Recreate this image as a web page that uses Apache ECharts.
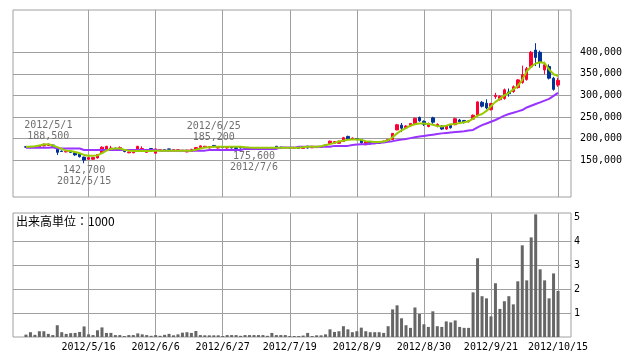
<!DOCTYPE html>
<html><head><meta charset="utf-8">
<script src="https://cdn.jsdelivr.net/npm/echarts@6/dist/echarts.min.js"></script>
<style>html,body{margin:0;padding:0;background:#fff}#c{width:638px;height:362px}</style>
</head><body><div id="c"></div>
<script>
// trading days
const dates = ['2012/4/23','2012/4/24','2012/4/25','2012/4/26','2012/4/27','2012/5/1','2012/5/2','2012/5/7','2012/5/8','2012/5/9',
'2012/5/10','2012/5/11','2012/5/14','2012/5/15','2012/5/16','2012/5/17','2012/5/18','2012/5/21','2012/5/22','2012/5/23',
'2012/5/24','2012/5/25','2012/5/28','2012/5/29','2012/5/30','2012/5/31','2012/6/1','2012/6/4','2012/6/5','2012/6/6',
'2012/6/7','2012/6/8','2012/6/11','2012/6/12','2012/6/13','2012/6/14','2012/6/15','2012/6/18','2012/6/19','2012/6/20',
'2012/6/21','2012/6/22','2012/6/25','2012/6/26','2012/6/27','2012/6/28','2012/6/29','2012/7/2','2012/7/3','2012/7/4',
'2012/7/5','2012/7/6','2012/7/9','2012/7/10','2012/7/11','2012/7/12','2012/7/13','2012/7/17','2012/7/18','2012/7/19',
'2012/7/20','2012/7/23','2012/7/24','2012/7/25','2012/7/26','2012/7/27','2012/7/30','2012/7/31','2012/8/1','2012/8/2',
'2012/8/3','2012/8/6','2012/8/7','2012/8/8','2012/8/9','2012/8/10','2012/8/13','2012/8/14','2012/8/15','2012/8/16',
'2012/8/17','2012/8/20','2012/8/21','2012/8/22','2012/8/23','2012/8/24','2012/8/27','2012/8/28','2012/8/29','2012/8/30',
'2012/8/31','2012/9/3','2012/9/4','2012/9/5','2012/9/6','2012/9/7','2012/9/10','2012/9/11','2012/9/12','2012/9/13',
'2012/9/14','2012/9/18','2012/9/19','2012/9/20','2012/9/21','2012/9/24','2012/9/25','2012/9/26','2012/9/27','2012/9/28',
'2012/10/1','2012/10/2','2012/10/3','2012/10/4','2012/10/5','2012/10/9','2012/10/10','2012/10/11','2012/10/12','2012/10/15'];

// prices in 1,000 yen
const open = [181,180,179,180,183,184,185,176,171,169,
171,167,165,157,152,152,155,167,174,176,
178,177,174,167,167,172,175,168,177,166,
173,174,176,174,173,172,169,170,174,179,
179,178,184,178,181,178,180,179,180,179,
176,176,178,176,178,177,182,180,178,179,
178,179,177,182.5,178.5,179,180,182.5,188,189,
189,193,205,198,200,197,186,191,188,190,
191,194,198,220,231,225,229,234,249,240,
228,248,229,229,222,230,232,243,242,239,
245,253,284,282,267,297,290,293,308,309,
318,330,337,366,405,400,359,367,340,324];
const close = [180,179,181,184,187,187,182,168,170,170,
168,162,158,150,156,156,163,180,182,178,
176,179,170,169,171,182,177,174,174,176,
174,173,175,174.5,174,173,173,175,179,183,
182,181,181,181,179,181,178,177,178,178,
178,178.5,177,178,177,178,179,178,179,178,
179,177,180,178,182,181,180.5,186,194,193,
194,202,199,201,198,190,193,188,190,189,
194,198,212,232,224,229,235,247,241,233,
234,238,233,222,229,225,246,239,237,241,
254,285,275,271,281,300,298,313,304,320,
336,348,362,400,388,377,371,340,314,335];
const low = [179,177,178,179,182,183,181,162,169,168,
167,160,156,142.7,150,151,154,166,172,174,
175,174,168,166,166,171,172,167,173,165,
172,172,174,173,172,171,168,169,173,178,
178,177,180,177,178,177,177,176,177,177,
176,175.6,176,175.8,176,176,178,177,177,177,
177,176,176,177,178,178,179,182,187,188,
188,192,197,197,196,188,184.5,186,187,188,
190,193,197,219,215,223,228,233,239,229,
226,234,226,220,220,223,231,236,235,237,
244,252,272,268,265,292,288,290,297,306,
316,327,334,363,368,364,349,337,311,320];
const high = [182,183,182,185,188,188.5,186,177,172,171,
172,168,166,158,157,157,164,182,183,183,
179,182,175,170,172,183,182,176,178,177,
175,175,176.5,175,175,174,174,176,180,184,
183,182,185.2,182,182,182,181,180,181,180,
179,179,179,179,179,179,183,181,180,180,
180,180,181,183,183,182,181,187,195,194,
195,204,206.5,202.5,201,199,194,192,191,191,
195,199,213,234,236,231,236,248,251,242,
237,250.5,235,231,231,232,248,245.5,243,243,
256,286,287,291,283,306,300,316,316,323,
338,369,366,403,421,404,378,372,343,341];

// moving averages (1,000 yen)
const maShort = [181,181,182,184,186,187,184,180,176,172,
171,169,166,162,160,160,161,166,172,176,
177,177,174,172,171,171,171,171,171,171.5,
171.5,171.5,171.5,171.5,171.5,171.5,171.5,172,174,177,
179,180,181,181,181,181,181,181,181,180,
179,178.6,178.6,178.6,178.6,178.6,178.6,178.6,178.6,178.6,
178.6,178.6,180,181,181,181,182,185,187,190,
193,195,197,198,198,197,194,193,192,192,
193,196,203,212,219,224,230,233,235,235,
234,232,229,228,230,233,234,236,238,240,
246,253,257,264,275,285,292,300,306,314,
322,336,356,367,374,377,375,360,349,345];
const maLong = [178.6,178.6,178.6,178.6,178.6,178.6,180,177,177,177,
177,177,177,173.5,173.5,173.5,173.5,173.5,173.5,173.5,
173.5,173.5,173.5,173.5,173.5,173.5,173.5,173.5,173.5,173.5,
172,172,172,172,172,172,172,172,172,172,
172,173.5,173.5,173.5,173.5,173.5,173.5,173.5,173.5,176,
176,176,176,176,176,176,176,179,179,179,
179,181,181,181,181,181,181,181,181,183,
183,183,183,185,186,186.5,187,188,189,190,
191,192.5,194,196,197.5,199,201,203,204.5,206,
207.5,209,210.5,212,213,214,215,216,217,218.5,
220,226,231,235,239,243,248,253,257,260,
263,266,272,276,280,284,288,292,299,306];

// volume (unit 1000)
const volume = [0.10,0.20,0.09,0.24,0.24,0.13,0.08,0.49,0.20,0.13,
0.16,0.17,0.21,0.44,0.11,0.08,0.28,0.40,0.17,0.17,
0.08,0.08,0.04,0.08,0.08,0.15,0.11,0.08,0.05,0.08,
0.05,0.09,0.13,0.07,0.11,0.18,0.20,0.17,0.25,0.08,
0.07,0.07,0.07,0.07,0.04,0.08,0.08,0.08,0.05,0.08,
0.08,0.08,0.08,0.08,0.05,0.17,0.08,0.08,0.08,0.04,
0.04,0.04,0.06,0.17,0.04,0.07,0.07,0.11,0.32,0.21,
0.24,0.45,0.32,0.20,0.24,0.39,0.24,0.20,0.20,0.20,
0.17,0.45,1.15,1.32,0.78,0.49,0.38,1.23,0.96,0.53,
0.42,1.07,0.45,0.42,0.65,0.61,0.69,0.42,0.38,0.38,
1.86,3.28,1.70,1.61,0.86,2.24,1.17,1.49,1.70,1.36,
2.32,3.82,2.36,4.15,5.11,2.82,2.36,1.61,2.65,1.92];

const priceTicks = [150,200,250,300,350,400];
const volumeLabels = [1,2,3,4,5];
const volumeLines = [1,2,3,4];
const dateTickIdx = [14,29,44,59,74,89,104,119];
const notes = [{i:5,kind:'high'},{i:13,kind:'low'},{i:42,kind:'high'},{i:51,kind:'low'}];
const volumeTitle = '出来高単位：1000';

const FONT = 'DejaVu Sans Mono';
const GRID = '#a0a0a0';
const UP = '#ff0033', DOWN = '#003399';
const commas = v => Math.round(v*1000).toString().replace(/\B(?=(\d{3})+(?!\d))/g, ',');

const candleData = dates.map((d,i)=>[i, open[i], close[i], low[i], high[i]]);
const xBase = {type:'value', min:-2.9, max:121.9, axisLine:{show:false},
  axisTick:{show:false, customValues: dateTickIdx},
  splitLine:{show:true, lineStyle:{color:GRID, width:1}}};

const option = {
  animation:false,
  backgroundColor:'#fff',
  title:{text:volumeTitle, left:16, top:215, padding:0,
    textStyle:{fontSize:12, fontWeight:'normal', fontFamily:'Noto Sans CJK JP', color:'#000'}},
  grid:[
    {left:13, right:67, top:10, height:187, show:true, borderColor:GRID, borderWidth:1},
    {left:13, right:67, top:213, height:124, show:true, borderColor:GRID, borderWidth:1}
  ],
  xAxis:[
    Object.assign({gridIndex:0, axisLabel:{show:false, customValues: dateTickIdx}}, xBase),
    Object.assign({gridIndex:1, axisLabel:{show:true, customValues: dateTickIdx, formatter:v=>dates[v],
      fontFamily:FONT, fontSize:10, color:'#000', margin:5}}, xBase)
  ],
  yAxis:[
    {type:'value', gridIndex:0, position:'right', min:64.5, max:498,
      axisLine:{show:false}, axisTick:{show:false, customValues:priceTicks},
      axisLabel:{customValues:priceTicks, formatter:commas, fontFamily:FONT, fontSize:10, color:'#000', margin:9},
      splitLine:{show:true, lineStyle:{color:GRID, width:1}}},
    {type:'value', gridIndex:1, position:'right', min:0, max:5.167,
      axisLine:{show:false}, axisTick:{show:false, customValues:volumeLines},
      axisLabel:{customValues:volumeLabels, fontFamily:FONT, fontSize:10, color:'#000', margin:3},
      splitLine:{show:true, lineStyle:{color:GRID, width:1}}}
  ],
  series:[
    {type:'candlestick', xAxisIndex:0, yAxisIndex:0, data:candleData, barWidth:3,
      encode:{x:0, y:[1,2,3,4]},
      itemStyle:{color:UP, color0:DOWN, borderColor:UP, borderColor0:DOWN, borderWidth:1},
      markPoint:{symbol:'circle', symbolSize:0, silent:true,
        label:{show:true, color:'#707070', fontFamily:FONT, fontSize:10, lineHeight:11, distance:2},
        data:notes.map(n=>{
          const v = n.kind==='high' ? high[n.i] : low[n.i];
          return {coord:[n.i, v], value:v,
            label:{position: n.kind==='high'?'top':'bottom',
              formatter: n.kind==='high' ? dates[n.i]+'\n'+commas(v) : commas(v)+'\n'+dates[n.i]}};
        })}
    },
    {type:'line', xAxisIndex:0, yAxisIndex:0, data:maLong.map((v,i)=>[i,v]), showSymbol:false,
      lineStyle:{color:'#9933ff', width:2}, z:3},
    {type:'line', xAxisIndex:0, yAxisIndex:0, data:maShort.map((v,i)=>[i,v]), showSymbol:false,
      lineStyle:{color:'#99cc00', width:2}, z:3},
    {type:'bar', xAxisIndex:1, yAxisIndex:1, data:volume.map((v,i)=>[i,v]), barWidth:3,
      itemStyle:{color:'#666666'}}
  ]
};
const chart = echarts.init(document.getElementById('c'));
chart.setOption(option);
</script></body></html>
